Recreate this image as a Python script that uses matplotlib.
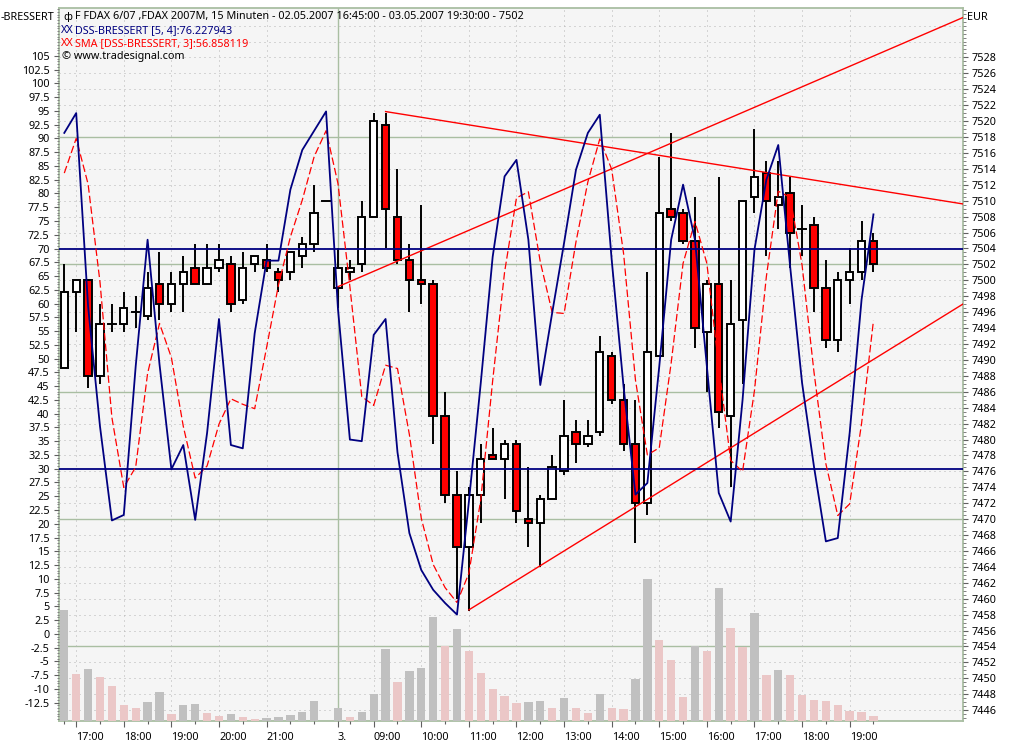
import numpy as np
import matplotlib
matplotlib.use('Agg')
import matplotlib.pyplot as plt
from matplotlib.patches import Rectangle
from matplotlib.ticker import FixedLocator, FuncFormatter

plt.rcParams['font.family'] = ['Noto Sans', 'DejaVu Sans']
plt.rcParams['font.size'] = 7.8

# FDAX 6/07, 15 minute bars 02.05.2007 16:45 -> 03.05.2007 19:30
opens = [7489, 7498.5, 7500, 7488, 7494.5, 7494.5, 7496, 7495.5, 7499.5, 7497, 7499.5, 7501.5,
         7499.5, 7501.5, 7502, 7497.5, 7502, 7502.5, 7501, 7501, 7503, 7504.5, 7510, 7499,
         7501, 7502, 7508, 7519.5, 7508, 7502.5, 7500, 7499.5, 7483, 7473, 7466.5, 7473,
         7478, 7477.5, 7479.5, 7470, 7469.5, 7472.5, 7476, 7481, 7479.5, 7481, 7490.5, 7485,
         7479.5, 7472, 7490.5, 7509, 7508.5, 7505, 7493.5, 7499.5, 7483, 7495, 7510.5, 7513.5,
         7509.5, 7511, 7506.5, 7507, 7499, 7492.5, 7500, 7501, 7505]
highs = [7502, 7500, 7500, 7497, 7497, 7498.5, 7498, 7501, 7503.5, 7501, 7503, 7504.5,
         7504.5, 7504.5, 7503, 7503.5, 7503, 7504.5, 7501.5, 7503.5, 7505.5, 7512, 7510, 7504,
         7502.5, 7510, 7521, 7521, 7514, 7504.5, 7509.5, 7500, 7486, 7476, 7474, 7479.5,
         7481.5, 7480, 7480, 7476.5, 7473, 7478, 7485, 7482.5, 7482.5, 7493, 7491, 7487,
         7485, 7501, 7515.5, 7518.5, 7509, 7510.5, 7500, 7513, 7500, 7510, 7519, 7515,
         7515, 7513, 7509.5, 7508, 7502.5, 7501, 7504, 7507.5, 7506]
lows = [7489, 7493.5, 7486.5, 7487, 7493.5, 7493.5, 7494, 7495, 7495, 7496, 7496, 7499.5,
        7499.5, 7501, 7496, 7497, 7501, 7501, 7498.5, 7500, 7501.5, 7503.5, 7510, 7496.5,
        7500, 7501, 7508, 7504, 7502, 7496, 7497, 7479.5, 7472, 7460, 7458.5, 7469.5,
        7477.5, 7472.5, 7469.5, 7466.5, 7464, 7472.5, 7475.5, 7477, 7479, 7480.5, 7484.5, 7478.5,
        7467, 7470.5, 7490.5, 7507.5, 7504.5, 7491.5, 7486, 7481.5, 7474, 7487, 7508.5, 7503,
        7506.5, 7501.5, 7503, 7496, 7491.5, 7491, 7497, 7500, 7501]
closes = [7498.5, 7500, 7488, 7494.5, 7494.5, 7496.5, 7496, 7499, 7497, 7499.5, 7501, 7499.5,
          7501.5, 7502.5, 7497, 7501.5, 7503, 7501.5, 7500, 7503.5, 7504.5, 7508.5, 7510, 7501.5,
          7501.5, 7508, 7520, 7509, 7502.5, 7500, 7499.5, 7483, 7473, 7466.5, 7473, 7477.5,
          7477.5, 7479.5, 7471, 7469.5, 7472.5, 7476.5, 7480.5, 7479.5, 7480.5, 7491, 7485, 7479.5,
          7472, 7491, 7508.5, 7508, 7505, 7494, 7499.5, 7483.5, 7494.5, 7510, 7513, 7510,
          7510.5, 7506, 7506.5, 7499, 7492.5, 7500, 7501, 7505, 7502]
volume = [5550, 2350, 2600, 2200, 1750, 800, 650, 950, 1450, 350, 800, 850,
          400, 250, 350, 200, 100, 150, 200, 300, 450, 1000, 0, 650,
          200, 450, 1350, 3600, 1950, 2500, 2650, 5200, 3750, 4600, 3500, 2400,
          1600, 1250, 900, 950, 1000, 650, 1150, 650, 400, 1350, 650, 600,
          2100, 7100, 4050, 3050, 1200, 3750, 3500, 6650, 4650, 3700, 5400, 2300,
          2550, 2300, 1300, 1050, 1000, 800, 500, 450, 250]
dss = [91.0, 94.6, 59.5, 37.7, 20.6, 21.6, 48.6, 71.6, 49.0, 29.9, 34.3, 20.7,
       36.5, 57.2, 34.3, 33.7, 54.6, 67.8, 67.8, 80.7, 87.9, 91.4, 94.9, 59.0,
       35.3, 35.0, 54.3, 57.2, 33.0, 18.3, 11.6, 8.0, 5.6, 3.5, 24.0, 45.6,
       68.5, 83.1, 86.1, 71.6, 45.2, 58.3, 71.0, 84.3, 91.0, 94.3, 68.0, 44.9,
       25.3, 27.4, 48.6, 71.6, 81.6, 71.6, 48.6, 25.6, 20.4, 42.5, 69.8, 82.5,
       88.8, 66.7, 45.6, 30.4, 16.8, 17.4, 36.5, 60.7, 76.2]
dss_sma = [83.7, 90.0, 81.7, 63.9, 39.3, 26.6, 30.3, 47.3, 56.4, 50.2, 37.7, 28.3,
           30.5, 38.1, 42.7, 41.7, 40.9, 52.0, 63.4, 72.1, 78.8, 86.7, 91.4, 81.8,
           63.1, 43.1, 41.5, 48.8, 48.2, 36.2, 21.0, 12.6, 8.4, 5.7, 11.0, 24.4,
           46.0, 65.7, 79.2, 80.3, 67.6, 58.4, 58.2, 71.2, 82.1, 89.9, 84.4, 69.1,
           46.1, 32.5, 33.8, 49.2, 67.3, 74.9, 67.3, 48.6, 31.5, 29.5, 44.2, 64.9,
           80.4, 79.3, 67.0, 47.6, 30.9, 21.5, 23.6, 38.2, 56.9]

hour_bars = [1, 5, 9, 13, 17, 23, 26, 30, 34, 38, 42, 46, 50, 54, 58, 62, 66]
hour_labels = ['17:00', '18:00', '19:00', '20:00', '21:00', '3.', '09:00', '10:00', '11:00',
               '12:00', '13:00', '14:00', '15:00', '16:00', '17:00', '18:00', '19:00']
half_bars = [0, 3, 7, 11, 15, 19, 21, 24, 28, 32, 36, 40, 44, 48, 52, 56, 60, 64, 68]
day_break = 23
dss_levels = [30, 70]
# drawn trendlines: (bar, price) -> (bar, price)
trendlines = [((23, 7499.2), (75.5, 7533.0)),
              ((27, 7521.2), (75.5, 7509.6)),
              ((34, 7458.6), (75.5, 7497.0))]

n = len(closes)
x = np.arange(n)

W, H = 1022, 754
fig = plt.figure(figsize=(W / 100, H / 100), dpi=100)
rect = [58.7 / W, 1 - 721 / H, (963.3 - 58.7) / W, (721 - 8) / H]
xlim = (-0.47, 75.55)
px_lim = (7444.64, 7534.21)
dss_lim = (-15.83, 113.69)

ax_bg = fig.add_axes(rect)
ax_vol = fig.add_axes(rect)
ax_px = fig.add_axes(rect)
ax_dss = fig.add_axes(rect)

grid_col = '#b4b4b4'
frame_col = '#a9bea2'

# background + grid
ax_bg.set_facecolor('#f5f5f5')
ax_bg.set_xlim(xlim)
ax_bg.set_ylim(px_lim)
for p in np.arange(7446, 7534, 2):
    if (p - 7454) % 16 == 0:
        ax_bg.axhline(p, color=frame_col, lw=1.0)
    else:
        ax_bg.axhline(p, color=grid_col, lw=0.72, ls=(0, (1, 4)))
for b in hour_bars:
    if b == day_break:
        ax_bg.axvline(b, color=frame_col, lw=1.0)
    else:
        ax_bg.axvline(b, color=grid_col, lw=0.72, ls=(0, (1, 4)))
ax_bg.set_xticks([])
ax_bg.set_yticks([])
for s in ax_bg.spines.values():
    s.set_color(frame_col)
    s.set_linewidth(1.3)

# volume
vol_cols = ['#c0c0c0' if i == 0 or volume[i] > volume[i - 1] else '#ebc7c7' for i in range(n)]
ax_vol.bar(x, volume, width=0.7, color=vol_cols, linewidth=0)
ax_vol.set_xlim(xlim)
ax_vol.set_ylim(0, 35650)
ax_vol.axis('off')

# candles
ax_px.patch.set_visible(False)
body_w = 0.62
for i in range(n):
    o, h, l, c = opens[i], highs[i], lows[i], closes[i]
    ax_px.plot([i, i], [l, h], color='black', lw=1.4, zorder=2, solid_capstyle='butt')
    if o == c:
        ax_px.plot([i - body_w / 2, i + body_w / 2], [o, o], color='black', lw=1.4, zorder=3)
    else:
        fc = 'white' if c > o else '#ff0000'
        ax_px.add_patch(Rectangle((i - body_w / 2, min(o, c)), body_w, abs(c - o),
                                  facecolor=fc, edgecolor='black', lw=1.4, zorder=3))
for (x0, p0), (x1, p1) in trendlines:
    ax_px.plot([x0, x1], [p0, p1], color='#ff0000', lw=1.0, zorder=4)
ax_px.set_xlim(xlim)
ax_px.set_ylim(px_lim)
for s in ax_px.spines.values():
    s.set_visible(False)
ax_px.yaxis.tick_right()
ax_px.yaxis.set_major_locator(FixedLocator(np.arange(7446, 7529, 2)))
ax_px.yaxis.set_minor_locator(FixedLocator(np.arange(7444.5, 7534.1, 0.5)))
ax_px.yaxis.set_major_formatter(FuncFormatter(lambda v, pos: '%d' % v))
ax_px.tick_params(axis='y', which='major', length=3.5, width=0.8, color='#606060', pad=2.5)
ax_px.tick_params(axis='y', which='minor', length=1.8, width=0.7, color='#808080')
ax_px.xaxis.set_major_locator(FixedLocator(hour_bars))
ax_px.xaxis.set_minor_locator(FixedLocator(half_bars))
ax_px.set_xticklabels(hour_labels, ha='left')
ax_px.tick_params(axis='x', which='major', length=4, width=0.8, color='#606060', pad=4)
ax_px.tick_params(axis='x', which='minor', length=2.5, width=0.8, color='#606060')

# DSS Bressert and its SMA
ax_dss.patch.set_visible(False)
for lv in dss_levels:
    ax_dss.axhline(lv, color='#000080', lw=1.3, zorder=2)
ax_dss.plot(x, dss, color='#000080', lw=1.3, zorder=4)
ax_dss.plot(x, dss_sma, color='#ff0000', lw=0.9, dashes=(6, 2.5), zorder=3)
ax_dss.set_xlim(xlim)
ax_dss.set_ylim(dss_lim)
for s in ax_dss.spines.values():
    s.set_visible(False)
ax_dss.set_xticks([])
ax_dss.yaxis.set_major_locator(FixedLocator(np.arange(-12.5, 105.1, 2.5)))
ax_dss.yaxis.set_minor_locator(FixedLocator(np.arange(-15.5, 113.6, 0.5)))
ax_dss.yaxis.set_major_formatter(FuncFormatter(lambda v, pos: '%g' % round(v, 1)))
ax_dss.tick_params(axis='y', which='major', length=3.5, width=0.8, color='#606060', pad=3)
ax_dss.tick_params(axis='y', which='minor', length=1.8, width=0.7, color='#808080')

# header texts
def ftext(px, py, s, **kw):
    fig.text(px / W, 1 - py / H, s, va='center', **kw)

ftext(1, 17, '-BRESSERT')
ftext(967, 17, 'EUR')
ftext(63, 16.5, '\u0444', family=['DejaVu Sans'], fontsize=7.5)
ftext(75, 16.5, 'F FDAX 6/07 ,FDAX 2007M, 15 Minuten - 02.05.2007 16:45:00 - 03.05.2007 19:30:00 - 7502')
ftext(61, 30.5, 'XX', color='#000080')
ftext(75, 30.5, 'DSS-BRESSERT [5, 4]:76.227943', color='#000080')
ftext(61, 43.5, 'XX', color='#ff0000')
ftext(75, 43.5, 'SMA [DSS-BRESSERT, 3]:56.858119', color='#ff0000')
ftext(62, 57, '\u00a9 www.tradesignal.com')

fig.savefig('out.png', dpi=100, facecolor='white')
